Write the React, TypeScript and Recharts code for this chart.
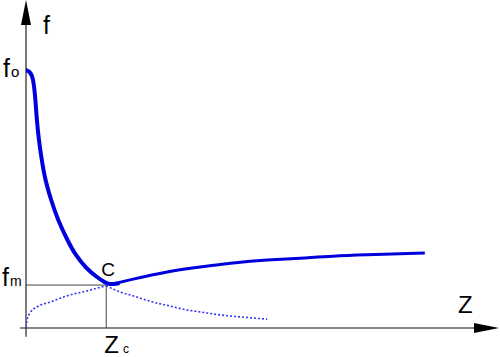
import React from 'react';
import { LineChart, Line, XAxis, YAxis, ReferenceLine, ReferenceDot } from 'recharts';

// Z runs 0..10 along the x axis, f runs 0..10 up the y axis (arrow tips at 10)
const F0 = 7.87;
const FM = 1.31;
const ZC = 1.7;

// steep falling branch from f0 down to C (thick)
const fallZ = [0, 0.074, 0.133, 0.169, 0.199, 0.231, 0.275, 0.335, 0.415, 0.534, 0.684, 0.879, 1.059, 1.282, 1.504, 1.663, 1.78, 1.949];
const fallF = [7.866, 7.805, 7.652, 7.378, 6.951, 6.341, 5.732, 5.122, 4.512, 3.902, 3.293, 2.683, 2.226, 1.829, 1.555, 1.402, 1.341, 1.357];

// slowly rising branch after C
const riseZ = [1.84, 2.27, 2.99, 3.69, 4.39, 5.11, 5.81, 6.5, 7.23, 7.92, 8.45];
const riseF = [1.34, 1.49, 1.71, 1.86, 1.98, 2.07, 2.13, 2.19, 2.23, 2.26, 2.29];

// dotted curve: rises from the origin to C, then falls off
const dotUpZ = [0, 0.02, 0.085, 0.23, 0.51, 0.87, 1.29, 1.7];
const dotUpF = [0.03, 0.24, 0.46, 0.64, 0.79, 0.98, 1.13, 1.29];
const dotDownZ = [1.7, 1.99, 2.27, 2.69, 3.05, 3.41, 3.69, 4.11, 4.53, 5.11];
const dotDownF = [1.29, 1.1, 0.98, 0.79, 0.67, 0.55, 0.49, 0.4, 0.34, 0.27];

const zip = (zs: number[], fs: number[]) => zs.map((z, i) => ({ z, f: fs[i] }));

const FONT = '"Liberation Sans", Arial, sans-serif';

const textShape = (dx: number, dy: number, main: string, size: number, sub?: string, subSize?: number, subDx = 1) =>
  (p: any) => (
    <text x={p.cx + dx} y={p.cy + dy} fontFamily={FONT} fontSize={size} fill="#000">
      {main}
      {sub ? <tspan fontSize={subSize} dx={subDx}>{sub}</tspan> : null}
    </text>
  );

const upArrow = (p: any) => (
  <polygon points={`${p.cx},${p.cy} ${p.cx - 5},${p.cy + 25} ${p.cx + 5},${p.cy + 25}`} fill="#000" />
);
const rightArrow = (p: any) => (
  <polygon points={`${p.cx + 1},${p.cy} ${p.cx - 24},${p.cy - 5} ${p.cx - 24},${p.cy + 5}`} fill="#000" />
);

export default function App() {
  return (
    <div style={{ position: 'absolute', left: 0, top: 0, width: 500, height: 357, background: '#fff' }}>
      <LineChart width={500} height={357} margin={{ top: 0, right: 2, bottom: 29, left: 26 }}>
        <XAxis dataKey="z" type="number" domain={[0, 10]} hide allowDataOverflow />
        <YAxis type="number" domain={[0, 10]} hide allowDataOverflow />

        {/* axes */}
        <ReferenceLine segment={[{ x: -0.13, y: 0 }, { x: 9.6, y: 0 }]} stroke="#888" strokeWidth={2} ifOverflow="visible" />
        <ReferenceLine segment={[{ x: 0, y: -0.27 }, { x: 0, y: 9.3 }]} stroke="#222" strokeWidth={1.2} ifOverflow="visible" />
        <ReferenceDot x={0} y={10} r={0} shape={upArrow} ifOverflow="visible" />
        <ReferenceDot x={10} y={0} r={0} shape={rightArrow} ifOverflow="visible" />

        {/* guides to C */}
        <ReferenceLine segment={[{ x: 0, y: FM }, { x: ZC, y: FM }]} stroke="#444" strokeWidth={1} ifOverflow="visible" />
        <ReferenceLine segment={[{ x: ZC, y: 0 }, { x: ZC, y: FM }]} stroke="#444" strokeWidth={1} ifOverflow="visible" />

        <Line data={zip(dotUpZ, dotUpF)} dataKey="f" type="monotone" stroke="#3838ee" strokeWidth={1.6} strokeDasharray="2 2" dot={false} isAnimationActive={false} />
        <Line data={zip(dotDownZ, dotDownF)} dataKey="f" type="monotone" stroke="#3838ee" strokeWidth={1.6} strokeDasharray="2 2" dot={false} isAnimationActive={false} />
        <Line data={zip(riseZ, riseF)} dataKey="f" type="natural" stroke="#0000dd" strokeWidth={3} dot={false} isAnimationActive={false} />
        <Line data={zip(fallZ, fallF)} dataKey="f" type="natural" stroke="#0000dd" strokeWidth={4} strokeLinecap="round" dot={false} isAnimationActive={false} />

        {/* labels */}
        <ReferenceDot x={0} y={10} r={0} shape={textShape(17, 34, 'f', 25)} ifOverflow="visible" />
        <ReferenceDot x={0} y={F0} r={0} shape={textShape(-23, 7, 'f', 25, 'o', 15)} ifOverflow="visible" />
        <ReferenceDot x={0} y={FM} r={0} shape={textShape(-24, 1, 'f', 25, 'm', 14)} ifOverflow="visible" />
        <ReferenceDot x={ZC} y={FM} r={0} shape={textShape(-5, -9, 'C', 19)} ifOverflow="visible" />
        <ReferenceDot x={10} y={0} r={0} shape={textShape(-40, -15, 'Z', 24)} ifOverflow="visible" />
        <ReferenceDot x={ZC} y={0} r={0} shape={textShape(-2, 25, 'Z', 24, 'c', 12, 4)} ifOverflow="visible" />
      </LineChart>
    </div>
  );
}
